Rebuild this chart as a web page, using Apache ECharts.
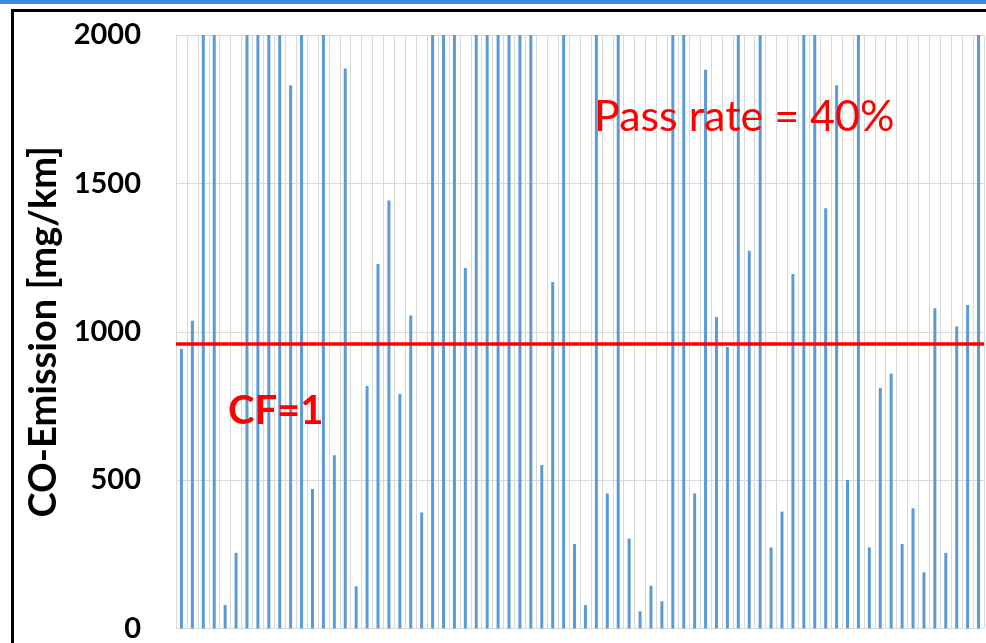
<!DOCTYPE html>
<html>
<head>
<meta charset="utf-8">
<script src="https://cdn.jsdelivr.net/npm/echarts@6/dist/echarts.min.js"></script>
<style>
html,body{margin:0;padding:0;background:#fff;}
#chart{width:986px;height:643px;}
</style>
</head>
<body>
<div id="chart"></div>
<script>
var categories = ['1','2','3','4','5','6','7','8','9','10','11','12','13','14','15','16','17','18','19','20',
  '21','22','23','24','25','26','27','28','29','30','31','32','33','34','35','36','37','38','39','40',
  '41','42','43','44','45','46','47','48','49','50','51','52','53','54','55','56','57','58','59','60',
  '61','62','63','64','65','66','67','68','69','70','71','72','73','74'];
var coEmission = [943,1037,2000,2000,79,255,2000,2000,2000,2000,1831,2000,470,2000,584,1887,142,817,1228,1442,
  790,1055,391,2000,2000,2000,1215,2000,2000,2000,2000,2000,2000,551,1168,2000,285,79,2000,455,
  2000,303,58,144,92,2000,2000,455,1883,1050,949,2000,1273,2000,273,394,1195,2000,2000,1416,
  1831,501,2000,273,811,859,285,405,189,1079,255,1018,1090,2000];
var yTicks = [0, 500, 1000, 1500, 2000];
var cfLimit = 958;
var yTitle = 'CO-Emission [mg/km]';
var passText = 'Pass rate = 40%';
var cfText = 'CF=1';

var chart = echarts.init(document.getElementById('chart'), null, {renderer:'canvas'});
chart.setOption({
  animation: false,
  backgroundColor: '#ffffff',
  grid: {left: 176, right: 2, top: 35, bottom: 12, containLabel: false},
  xAxis: {
    type: 'category',
    data: categories,
    boundaryGap: true,
    axisLine: {show: true, lineStyle: {color: '#D9D9D9', width: 1}},
    axisTick: {show: false},
    axisLabel: {show: false},
    splitLine: {show: true, interval: 0, lineStyle: {color: '#D9D9D9', width: 1}}
  },
  yAxis: {
    type: 'value',
    min: yTicks[0],
    max: yTicks[yTicks.length - 1],
    interval: 500,
    name: yTitle,
    nameLocation: 'middle',
    nameRotate: 90,
    nameGap: 113,
    nameTextStyle: {fontFamily: 'Lato', fontWeight: 'bold', fontSize: 38, color: '#000'},
    axisLine: {show: false},
    axisTick: {show: false},
    axisLabel: {margin: 35, fontFamily: 'Lato', fontWeight: 'bold', fontSize: 29, color: '#000',
      formatter: function (v) { return String(v); }},
    splitLine: {show: true, lineStyle: {color: '#D9D9D9', width: 1}}
  },
  series: [{
    type: 'bar',
    data: coEmission,
    barWidth: 3,
    itemStyle: {color: '#5B9BD5'},
    markLine: {
      silent: true,
      symbol: ['none', 'none'],
      label: {show: false},
      lineStyle: {color: '#FF0000', width: 3.5, type: 'solid'},
      data: [{yAxis: cfLimit}]
    }
  }],
  graphic: [
    {type: 'rect', left: 0, top: 0, shape: {width: 986, height: 4}, style: {fill: '#3E8AD6'}, z: 100},
    {type: 'rect', shape: {x: 12.5, y: 10.5, width: 1000, height: 700}, style: {fill: null, stroke: '#000', lineWidth: 3}, z: 100},
    {type: 'text', x: 594, y: 117, z: 100,
      style: {text: passText, fill: '#FF0000', font: '43px Lato', textVerticalAlign: 'middle'}},
    {type: 'text', x: 228, y: 411, z: 100,
      style: {text: cfText, fill: '#FF0000', font: 'bold 40px Lato', textVerticalAlign: 'middle'}}
  ]
});
</script>
</body>
</html>
